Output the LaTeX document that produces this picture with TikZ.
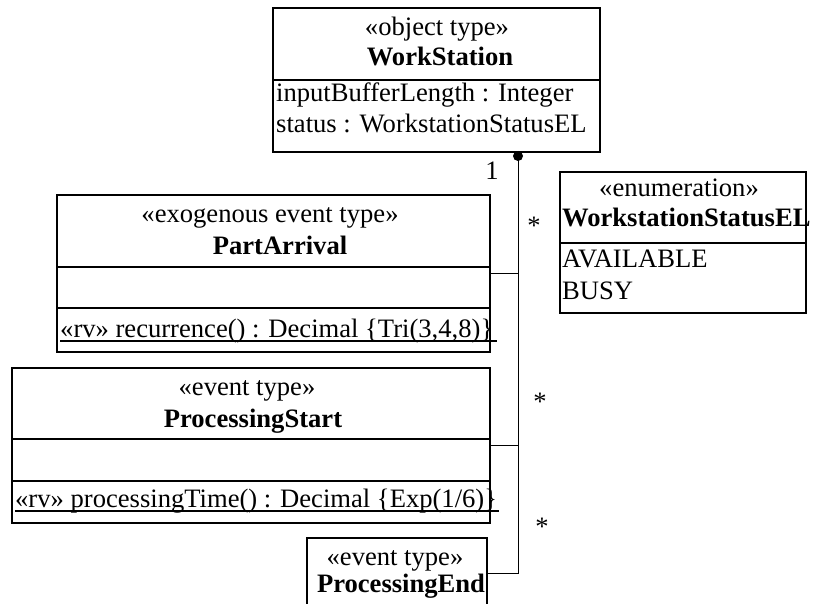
\documentclass[tikz,border=0pt]{standalone}
\usepackage{fontspec}
\setmainfont{Liberation Serif}
\begin{document}
\begin{tikzpicture}[x=1pt,y=-1pt,
  classbox/.style={draw,line width=2pt,anchor=north west,inner sep=0pt,outer sep=0pt},
  divider/.style={line width=2pt},
  assoc/.style={line width=1pt},
  txt/.style={font=\fontsize{26.6}{31}\selectfont,inner sep=0pt,anchor=base},
  bold/.style={txt,font=\fontsize{26.6}{31}\selectfont\bfseries},
  lefttxt/.style={txt,anchor=base west},
  mult/.style={font=\fontsize{26.6}{31}\selectfont,inner sep=0pt,anchor=base},
  uline/.style={line width=1.5pt}]
\useasboundingbox (0,0) rectangle (817,604);
\clip (0,0) rectangle (817,604);

% WorkStation
\node[classbox,minimum width=327pt,minimum height=144pt] (ws) at (273,8) {};
\draw[divider] (273,80) -- (600,80);
\node[txt] (wsst) at (437,36) {«object type»};
\node[bold] (wsnm) at (440,66) {WorkStation};
\node[lefttxt] (wsa1) at (276,102) {inputBufferLength : Integer};
\node[lefttxt] (wsa2) at (276,133) {status : WorkstationStatusEL};

% WorkstationStatusEL
\node[classbox,minimum width=246pt,minimum height=141pt] (en) at (560,172) {};
\draw[divider] (560,243) -- (806,243);
\node[txt] (enst) at (679,197) {«enumeration»};
\node[bold,anchor=base west] (ennm) at (562,227) {WorkstationStatusEL};
\node[lefttxt] (en1) at (562,268) {AVAILABLE};
\node[lefttxt] (en2) at (562,299) {BUSY};

% PartArrival
\node[classbox,minimum width=433pt,minimum height=157pt] (pa) at (57,195) {};
\draw[divider] (57,267) -- (490,267);
\draw[divider] (57,308) -- (490,308);
\node[txt] (past) at (270,223) {«exogenous event type»};
\node[bold] (panm) at (280,255) {PartArrival};
\node[lefttxt] (paop) at (60,337) {«rv» recurrence() : Decimal \{Tri(3,4,8)\}};
\draw[uline] ([yshift=-4pt]paop.base west) -- ([yshift=-4pt,xshift=4pt]paop.base east);

% ProcessingStart
\node[classbox,minimum width=478pt,minimum height=155pt] (ps) at (12,368) {};
\draw[divider] (12,439) -- (490,439);
\draw[divider] (12,481) -- (490,481);
\node[txt] (psst) at (247,395) {«event type»};
\node[bold] (psnm) at (253,427) {ProcessingStart};
\node[lefttxt] (psop) at (15,507) {«rv» processingTime() : Decimal \{Exp(1/6)\}};
\draw[uline] ([yshift=-4pt]psop.base west) -- ([yshift=-4pt,xshift=2pt]psop.base east);

% ProcessingEnd
\node[classbox,minimum width=180pt,minimum height=70pt] (pe) at (307,538) {};
\node[txt] (pest) at (395,565) {«event type»};
\node[bold] (penm) at (401,592) {ProcessingEnd};

% associations
\coordinate (dot) at (518,156);
\draw[assoc] (dot) -- (dot |- pe.east) -- (pe.east);
\draw[assoc] (pa.east) -- (pa.east -| dot);
\draw[assoc] (ps.east) -- (ps.east -| dot);
\fill (dot) circle (5pt);

\node[mult] (m1) at (492,180) {1};
\node[mult] (m2) at (534,235) {*};
\node[mult] (m3) at (540,410) {*};
\node[mult] (m4) at (542,535) {*};
\end{tikzpicture}
\end{document}
